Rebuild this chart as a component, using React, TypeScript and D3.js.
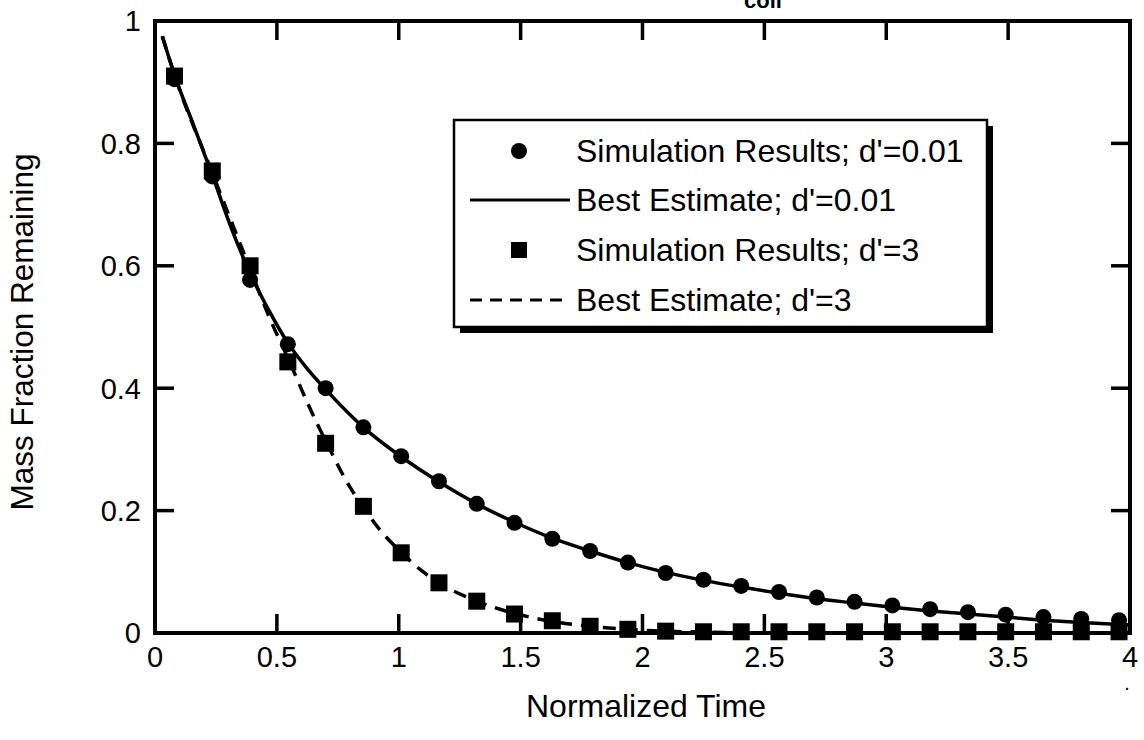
import React from "react";
import * as d3 from "d3";

// ---- data ----
const sampleTimes = [0.08, 0.235, 0.39, 0.545, 0.7, 0.855, 1.01, 1.165, 1.32, 1.475, 1.63, 1.785, 1.94, 2.095, 2.25, 2.405, 2.56, 2.715, 2.87, 3.025, 3.18, 3.335, 3.49, 3.645, 3.8, 3.955];
const simSmallD = [0.905, 0.746, 0.577, 0.472, 0.4, 0.336, 0.289, 0.248, 0.211, 0.18, 0.154, 0.134, 0.115, 0.098, 0.087, 0.077, 0.067, 0.058, 0.051, 0.045, 0.039, 0.034, 0.03, 0.026, 0.023, 0.021];
const simLargeD = [0.91, 0.755, 0.6, 0.443, 0.31, 0.207, 0.131, 0.082, 0.052, 0.031, 0.02, 0.011, 0.006, 0.003, 0.002, 0.002, 0.002, 0.002, 0.002, 0.002, 0.002, 0.002, 0.002, 0.002, 0.002, 0.002];

const fitSmallT = [0.03, 0.08, 0.16, 0.235, 0.31, 0.39, 0.47, 0.545, 0.62, 0.7, 0.855, 1.01, 1.165, 1.32, 1.475, 1.63, 1.785, 1.94, 2.095, 2.25, 2.405, 2.56, 2.715, 2.87, 3.025, 3.18, 3.335, 3.49, 3.645, 3.8, 4.0];
const fitSmallY = [0.975, 0.912, 0.828, 0.748, 0.665, 0.588, 0.525, 0.474, 0.434, 0.398, 0.336, 0.288, 0.247, 0.211, 0.181, 0.155, 0.134, 0.115, 0.099, 0.086, 0.075, 0.065, 0.056, 0.049, 0.042, 0.036, 0.031, 0.026, 0.021, 0.017, 0.013];

const fitLargeT = [0.03, 0.08, 0.235, 0.39, 0.47, 0.55, 0.63, 0.705, 0.78, 0.855, 0.93, 1.01, 1.09, 1.165, 1.32, 1.475, 1.63, 1.785, 1.94, 2.095, 2.25, 2.5, 3.0, 4.0];
const fitLargeY = [0.975, 0.912, 0.752, 0.595, 0.515, 0.445, 0.372, 0.31, 0.252, 0.205, 0.165, 0.132, 0.103, 0.082, 0.052, 0.032, 0.019, 0.011, 0.006, 0.003, 0.0015, 0.0005, 0.0, 0.0];

const xTicks = [0, 0.5, 1, 1.5, 2, 2.5, 3, 3.5, 4];
const xTickLabels = ["0", "0.5", "1", "1.5", "2", "2.5", "3", "3.5", "4"];
const yTicks = [0, 0.2, 0.4, 0.6, 0.8, 1];
const yTickLabels = ["0", "0.2", "0.4", "0.6", "0.8", "1"];

const legendLabels = [
  "Simulation Results; d'=0.01",
  "Best Estimate; d'=0.01",
  "Simulation Results; d'=3",
  "Best Estimate; d'=3",
];

const xTitle = "Normalized Time";
const yTitle = "Mass Fraction Remaining";
const topFragment = "coll";

// ---- layout ----
const W = 1144;
const H = 740;
const L = 155, R = 1130, T = 21, B = 633;
const FONT = "'Liberation Sans', Arial, Helvetica, sans-serif";

export default function App() {
  const x = d3.scaleLinear().domain([0, 4]).range([L, R]);
  const y = d3.scaleLinear().domain([0, 1]).range([B, T]);

  const line = d3
    .line<[number, number]>()
    .x((d) => x(d[0]))
    .y((d) => y(d[1]))
    .curve(d3.curveMonotoneX);

  const smallFit = line(fitSmallT.map((t, i) => [t, fitSmallY[i]] as [number, number])) || "";
  const largeFit = line(fitLargeT.map((t, i) => [t, fitLargeY[i]] as [number, number])) || "";

  const tickLen = 19;
  const dash = "13,9";

  // legend geometry
  const lgX = 454, lgY = 120, lgW = 533, lgH = 207, shadow = 6;
  const rowBase = [162, 211, 261, 311];
  const markX = 519;
  const textX = 576;

  return (
    <svg
      width={W}
      height={H}
      viewBox={`0 0 ${W} ${H}`}
      style={{ position: "absolute", left: 0, top: 0, background: "#fff" }}
      fontFamily={FONT}
    >
      <rect x={0} y={0} width={W} height={H} fill="#fff" />
      <defs>
        <clipPath id="plotclip">
          <rect x={L} y={T - 10} width={R - L + 10} height={B - T + 20} />
        </clipPath>
      </defs>

      {/* clipped fragment at top */}
      <text x={763} y={8} fontSize={22} fontWeight="bold" textAnchor="middle" fill="#000">
        {topFragment}
      </text>

      {/* ticks */}
      {xTicks.slice(1, -1).map((t) => (
        <g key={"xt" + t}>
          <line x1={x(t)} x2={x(t)} y1={B} y2={B - tickLen} stroke="#000" strokeWidth={3.5} />
          <line x1={x(t)} x2={x(t)} y1={T} y2={T + tickLen} stroke="#000" strokeWidth={3.5} />
        </g>
      ))}
      {yTicks.slice(1, -1).map((v) => (
        <g key={"yt" + v}>
          <line x1={L} x2={L + tickLen} y1={y(v)} y2={y(v)} stroke="#000" strokeWidth={3.5} />
          <line x1={R} x2={R - tickLen} y1={y(v)} y2={y(v)} stroke="#000" strokeWidth={3.5} />
        </g>
      ))}

      {/* curves */}
      <g clipPath="url(#plotclip)">
        <path d={smallFit} fill="none" stroke="#000" strokeWidth={3.5} />
        <path d={largeFit} fill="none" stroke="#000" strokeWidth={3.5} strokeDasharray={dash} />
        {sampleTimes.map((t, i) => (
          <circle key={"c" + i} cx={x(t)} cy={y(simSmallD[i])} r={8} fill="#000" />
        ))}
        {sampleTimes.map((t, i) => (
          <rect key={"s" + i} x={x(t) - 8.5} y={y(simLargeD[i]) - 8.5} width={17} height={17} fill="#000" />
        ))}
      </g>

      {/* frame */}
      <rect x={L} y={T} width={R - L} height={B - T} fill="none" stroke="#000" strokeWidth={4} />

      {/* tick labels */}
      {xTicks.map((t, i) => (
        <text key={"xl" + t} x={x(t)} y={667} fontSize={29} textAnchor="middle" fill="#000">
          {xTickLabels[i]}
        </text>
      ))}
      {yTicks.map((v, i) => (
        <text key={"yl" + v} x={141} y={y(v)} dy="0.36em" fontSize={29} textAnchor="end" fill="#000">
          {yTickLabels[i]}
        </text>
      ))}

      {/* axis titles */}
      <text x={646} y={717} fontSize={32} textAnchor="middle" fill="#000">
        {xTitle}
      </text>
      <text
        transform={`translate(33, ${(T + B) / 2 + 5}) rotate(-90)`}
        fontSize={31.5}
        textAnchor="middle"
        fill="#000"
      >
        {yTitle}
      </text>
      <text x={1127} y={690} fontSize={20} textAnchor="middle" fill="#000">.</text>

      {/* legend */}
      <rect x={lgX + shadow} y={lgY + shadow} width={lgW} height={lgH} fill="#000" />
      <rect x={lgX} y={lgY} width={lgW} height={lgH} fill="#fff" stroke="#000" strokeWidth={2.5} />
      <circle cx={markX} cy={rowBase[0] - 11} r={8} fill="#000" />
      <line x1={470} x2={570} y1={rowBase[1] - 11} y2={rowBase[1] - 11} stroke="#000" strokeWidth={3} />
      <rect x={markX - 8} y={rowBase[2] - 19} width={16} height={16} fill="#000" />
      <line x1={470} x2={570} y1={rowBase[3] - 11} y2={rowBase[3] - 11} stroke="#000" strokeWidth={3} strokeDasharray="12,8" />
      {legendLabels.map((s, i) => (
        <text key={"lg" + i} x={textX} y={rowBase[i]} fontSize={32} fill="#000">
          {s}
        </text>
      ))}
    </svg>
  );
}
